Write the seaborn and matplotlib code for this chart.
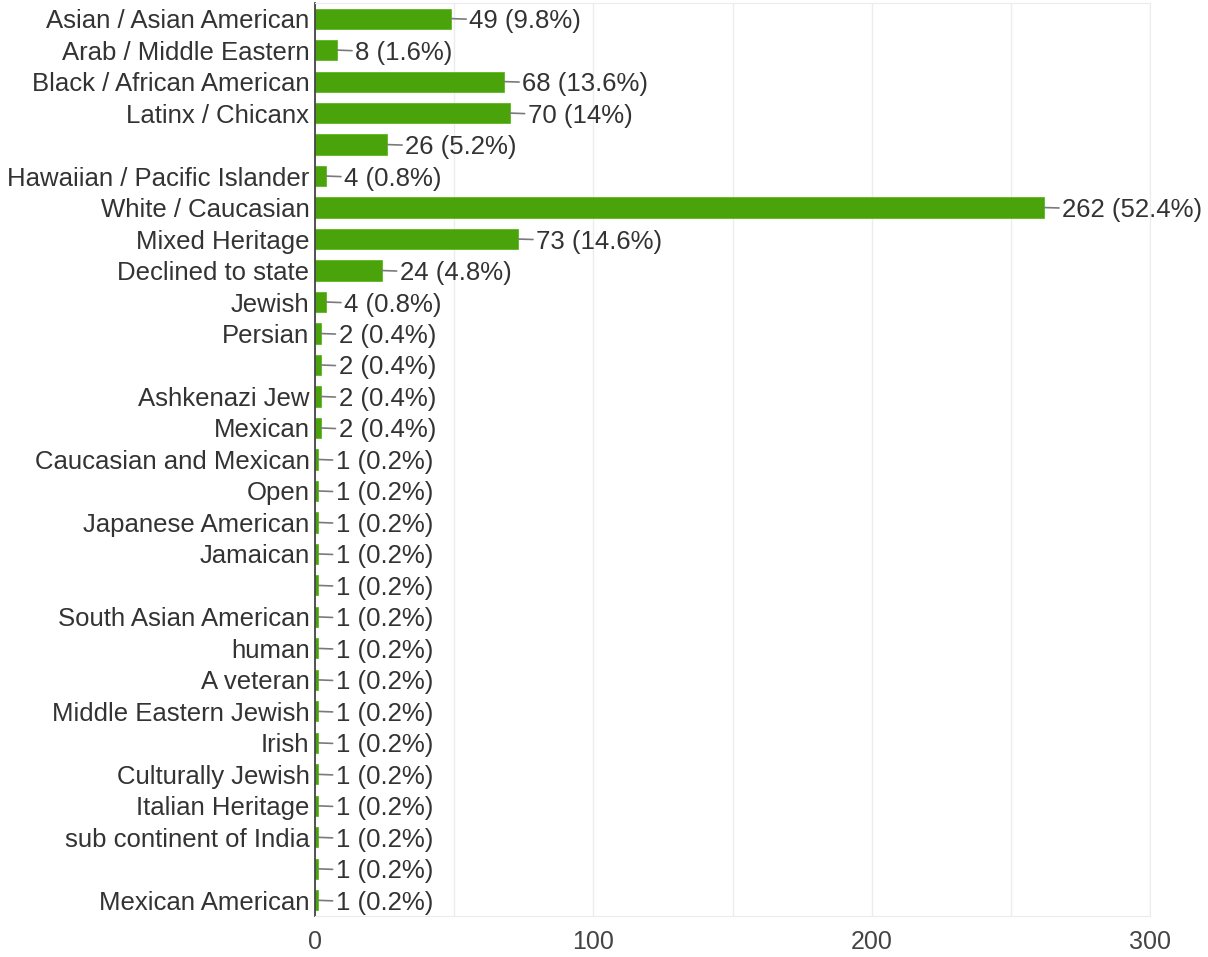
import pandas as pd
import numpy as np
import matplotlib.pyplot as plt
import seaborn as sns
from matplotlib.ticker import MultipleLocator

sns.set_style("white")
plt.rcParams['font.family'] = ['Liberation Sans', 'DejaVu Sans']

# --- Dados ---
categorias = [
    'Asian / Asian American', 'Arab / Middle Eastern', 'Black / African American',
    'Latinx / Chicanx', '', 'Hawaiian / Pacific Islander', 'White / Caucasian',
    'Mixed Heritage', 'Declined to state', 'Jewish', 'Persian', '', 'Ashkenazi Jew',
    'Mexican', 'Caucasian and Mexican', 'Open', 'Japanese American', 'Jamaican', '',
    'South Asian American', 'human', 'A veteran', 'Middle Eastern Jewish', 'Irish',
    'Culturally Jewish', 'Italian Heritage', 'sub continent of India', '',
    'Mexican American',
]
contagens = [49, 8, 68, 70, 26, 4, 262, 73, 24, 4, 2, 2, 2, 2,
             1, 1, 1, 1, 1, 1, 1, 1, 1, 1, 1, 1, 1, 1, 1]
percentuais = [9.8, 1.6, 13.6, 14, 5.2, 0.8, 52.4, 14.6, 4.8, 0.8, 0.4, 0.4, 0.4, 0.4,
               0.2, 0.2, 0.2, 0.2, 0.2, 0.2, 0.2, 0.2, 0.2, 0.2, 0.2, 0.2, 0.2, 0.2, 0.2]
ticks_x = [0, 100, 200, 300]

# chave única por linha (há rótulos vazios repetidos)
df = pd.DataFrame({
    'chave': [str(i) for i in range(len(categorias))],
    'categoria': categorias,
    'contagem': contagens,
    'pct': percentuais,
})

verde = '#4ba30b'
texto = '#333333'
tam = 18.5

fig = plt.figure(figsize=(12.08, 9.57), dpi=100)
ax = fig.add_axes([0.2608, 0.0428, 0.952 - 0.2608, 0.997 - 0.0428])

sns.barplot(data=df, x='contagem', y='chave', orient='h', color=verde,
            width=0.64, edgecolor='#5cb81e', linewidth=0.6, saturation=1, ax=ax)

ax.set_xlim(0, 300)
ax.set_ylim(len(categorias) - 0.5, -0.5)
ax.set_xticks(ticks_x)
ax.set_xticklabels([str(t) for t in ticks_x], fontsize=18, color='#444444')
ax.xaxis.set_minor_locator(MultipleLocator(50))
ax.grid(True, axis='x', which='both', color='#ececec', linewidth=1)
ax.set_axisbelow(True)
ax.set_yticks(range(len(categorias)))
ax.set_yticklabels(df['categoria'], fontsize=tam, color=texto)
ax.tick_params(axis='both', which='both', length=0)
ax.tick_params(axis='x', pad=10)
ax.tick_params(axis='y', pad=4)
ax.set_xlabel('')
ax.set_ylabel('')

for lado in ['top', 'right', 'bottom']:
    ax.spines[lado].set_color('#ececec')
ax.spines['left'].set_color('#444444')
ax.spines['left'].set_linewidth(1.3)

# Rótulos com linha guia
for i, linha in df.iterrows():
    rotulo = f"{linha['contagem']} ({linha['pct']:g}%)"
    ax.annotate(rotulo, xy=(linha['contagem'], i), xytext=(13, 0),
                textcoords='offset points', va='center_baseline', ha='left',
                fontsize=tam, color=texto,
                arrowprops=dict(arrowstyle='-', color='#7a7a7a', lw=1.2,
                                shrinkA=0, shrinkB=0))

fig.savefig('out.png', dpi=100)
